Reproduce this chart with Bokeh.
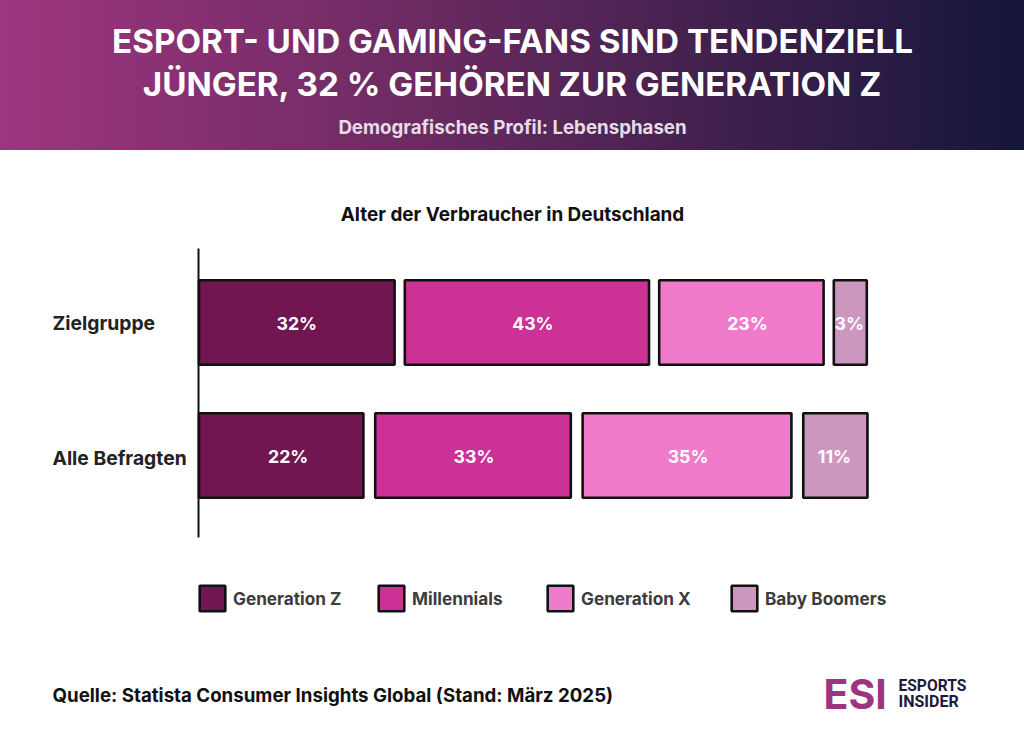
from bokeh.core.properties import value
from bokeh.embed import file_html
from bokeh.resources import INLINE
from bokeh.plotting import figure
from bokeh.models import (ColumnDataSource, Label, LinearAxis, FixedTicker, Range1d,
                          Legend, LegendItem)

# ---------- data ----------
title_lines = ["ESPORT- UND GAMING-FANS SIND TENDENZIELL", "JÜNGER, 32 % GEHÖREN ZUR GENERATION Z"]
subtitle = "Demografisches Profil: Lebensphasen"
chart_title = "Alter der Verbraucher in Deutschland"
source_note = "Quelle: Statista Consumer Insights Global (Stand: März 2025)"
categories = ["Zielgruppe", "Alle Befragten"]
series = ["Generation Z", "Millennials", "Generation X", "Baby Boomers"]
colors = ["#711650", "#CC3196", "#F07BCB", "#CB97BE"]
# printed shares
zielgruppe_labels = [32, 43, 23, 3]
alle_labels = [22, 33, 35, 11]
# drawn bar lengths, as measured in the picture (not proportional to the printed shares)
zielgruppe_lengths = [32.6, 40.7, 27.4, 5.5]
alle_lengths = [27.4, 32.6, 34.8, 10.7]

# ---------- page geometry ----------
W, H = 1024, 748
PX_X, PX_Y = 6.0, 133.0   # px per data unit
X0_REF, ROW0_REF, ROW1_REF = 198.5, 322.0, 455.0
x_start = -X0_REF / PX_X
y_top = 1 + ROW0_REF / PX_Y
y_bottom = -(H - ROW1_REF) / PX_Y
row_y = [1, 0]
row_gap = [1.7, 1.97]
label_shift = [[0, 6, 6, -1], [7, 1, 1, -1]]   # px, printed labels sit off-centre in the reference

p = figure(width=W, height=H, output_backend="svg", toolbar_location=None,
           x_range=Range1d(x_start, x_start + W / PX_X), y_range=Range1d(y_bottom, y_top),
           x_axis_location=None, y_axis_location=None, min_border=0,
           outline_line_color=None, background_fill_color=None, border_fill_color=None)
p.grid.visible = False
p.styles = {"background": "linear-gradient(90deg,#9E3580 0%,#6A2A60 42%,#15163A 100%) top left / 100% 150px no-repeat"}

# ---------- bars ----------
BODY = "Inter"
legend_renderers = []
rows = ((zielgruppe_lengths, zielgruppe_labels), (alle_lengths, alle_labels))
for si, (name, col) in enumerate(zip(series, colors)):
    lefts, rights, lab, shift = [], [], [], []
    for ri, (lengths, labels) in enumerate(rows):
        l = sum(lengths[:si]) + si * row_gap[ri]
        lefts.append(l)
        rights.append(l + lengths[si])
        lab.append(f"{labels[si]}%")
        shift.append(label_shift[ri][si])
    src = ColumnDataSource(dict(y=row_y, left=lefts, right=rights, shift=shift,
                                mid=[(a + b) / 2 for a, b in zip(lefts, rights)], lab=lab))
    r = p.hbar(y="y", left="left", right="right", height=84.5 / PX_Y, source=src,
               fill_color=col, line_color="#111111", line_width=2.6)
    legend_renderers.append(r)
    p.text(x="mid", y="y", text="lab", source=src, x_offset="shift", y_offset=1, text_color="#FFFFFF",
           text_align="center", text_baseline="middle", text_font=value(BODY),
           text_font_style="bold", text_font_size="17.7px")

# vertical axis line
ax = LinearAxis(fixed_location=-0.1, ticker=FixedTicker(ticks=[]), major_tick_line_color=None,
                minor_tick_line_color=None, major_label_text_font_size="0px",
                major_tick_out=0, major_tick_in=0, major_label_standoff=0,
                axis_line_color="#111111", axis_line_width=2,
                bounds=(-(537 - ROW1_REF) / PX_Y, 1 + (ROW0_REF - 248) / PX_Y))
p.add_layout(ax, "left")

# category labels
cat_src = ColumnDataSource(dict(y=row_y, name=categories, x=[0, 0], dy=[0.5, 2]))
p.text(x="x", y="y", text="name", source=cat_src, x_offset=52 - X0_REF, y_offset="dy", text_baseline="middle",
       text_font=value(BODY), text_font_style="bold", text_font_size="19.3px", text_color="#222222")

# ---------- legends ----------
for name, r, x_ref in zip(series, legend_renderers, (196, 375, 544, 728)):
    lg = Legend(items=[LegendItem(label=name, renderers=[r])], location=(x_ref, H - 614),
                orientation="horizontal", border_line_color=None, background_fill_color=None,
                padding=0, margin=0, glyph_width=32, glyph_height=32, label_standoff=5,
                label_text_font=BODY, label_text_font_style="bold", label_text_font_size="17.2px",
                label_text_color="#3C3C3C")
    p.add_layout(lg, "center")

# ---------- texts ----------
def txt(s, x, y, size, color, font=BODY, style="bold", align="center"):
    p.add_layout(Label(x=x, y=H - y, x_units="screen", y_units="screen", text=s,
                       text_font=font, text_font_style=style, text_font_size=f"{size}px",
                       text_color=color, text_align=align, text_baseline="middle"))

txt(title_lines[0], 512, 40, 33.2, "#FFFFFF")
txt(title_lines[1], 512, 83, 33.2, "#FFFFFF")
txt(subtitle, 512, 127, 18.7, "#E6DCE6")
txt(chart_title, 512, 213.5, 18.9, "#111111")
txt(source_note, 52, 695, 18.7, "#111111", align="left")
txt("ESI", 823, 693, 41, "#9C3580", style="bold", align="left")
txt("ESPORTS", 898, 685, 15.6, "#1D1A40", font="Roboto", align="left")
txt("INSIDER", 898, 701, 16, "#1D1A40", font="Roboto", align="left")

open("out.html", "w").write(file_html(p, INLINE))
